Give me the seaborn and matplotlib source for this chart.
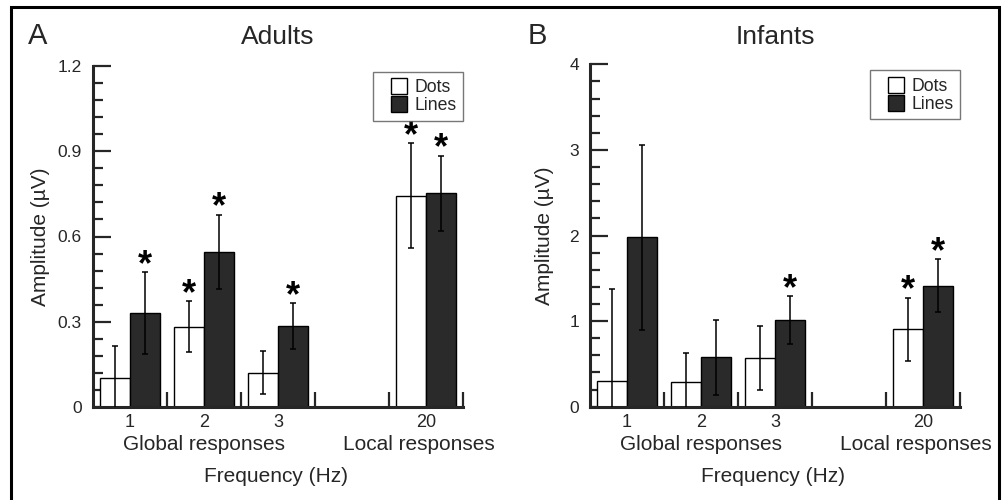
import numpy as np
import pandas as pd
import matplotlib
matplotlib.use("Agg")
import matplotlib.pyplot as plt
import seaborn as sns
from matplotlib.patches import Rectangle
from matplotlib.legend_handler import HandlerPatch

# ---------------- data ----------------
freqs = ["1", "2", "3", "20"]
conditions = ["Dots", "Lines"]
slot_order = ["1", "2", "3", " ", "20"]   # empty slot between 3 and 20

adults_dots = [0.103, 0.283, 0.121, 0.743]
adults_dots_err = [0.11, 0.09, 0.075, 0.185]
adults_lines = [0.33, 0.547, 0.285, 0.752]
adults_lines_err = [0.145, 0.13, 0.08, 0.133]
adults_dots_sig = [False, True, False, True]
adults_lines_sig = [True, True, True, True]

infants_dots = [0.30, 0.285, 0.569, 0.904]
infants_dots_err = [1.08, 0.345, 0.37, 0.37]
infants_lines = [1.98, 0.577, 1.013, 1.414]
infants_lines_err = [1.08, 0.44, 0.28, 0.31]
infants_dots_sig = [False, False, False, True]
infants_lines_sig = [False, False, True, True]

adult_yticks = [0, 0.3, 0.6, 0.9, 1.2]
adult_ytick_labels = ["0", "0.3", "0.6", "0.9", "1.2"]
infant_yticks = [0, 1, 2, 3, 4]
infant_ytick_labels = ["0", "1", "2", "3", "4"]

# ---------------- style ----------------
sns.set_style("ticks")
plt.rcParams["font.family"] = ["Liberation Sans", "DejaVu Sans"]

fig = plt.figure(figsize=(10.02, 5.0), dpi=100)
W, H = 1002.0, 500.0

def make_axes(left, right, top, bottom):
    return fig.add_axes([left / W, 1 - bottom / H, (right - left) / W, (bottom - top) / H])

axA = make_axes(93, 463, 66, 407)
axB = make_axes(590, 960, 64.3, 406.7)

palette = {"Dots": "white", "Lines": "#2a2a2a"}


def square_right(legend, orig_handle, xdescent, ydescent, width, height, fontsize):
    side = height
    return Rectangle((-xdescent + width - side, -ydescent), side, height)


def panel(ax, dots, dots_err, lines, lines_err, dsig, lsig, yticks, ylabels,
          minor_step, ymax, title, ylab_x, title_y):
    df = pd.DataFrame({
        "Frequency": freqs * 2,
        "Condition": ["Dots"] * len(freqs) + ["Lines"] * len(freqs),
        "Amplitude": dots + lines,
    })
    sns.barplot(data=df, x="Frequency", y="Amplitude", hue="Condition",
                order=slot_order, hue_order=conditions, palette=palette,
                saturation=1, edgecolor="black", linewidth=1.0,
                errorbar=None, width=0.8, ax=ax)
    conts = list(ax.containers[:2])
    for cont, errs, sigs in zip(conts, [dots_err, lines_err], [dsig, lsig]):
        bars = sorted(cont.patches, key=lambda p: p.get_x())
        for bar, e, s in zip(bars, errs, sigs):
            cx = bar.get_x() + bar.get_width() / 2
            h = bar.get_height()
            ax.errorbar(cx, h, yerr=e, color="black", lw=1.1, capsize=2,
                        capthick=1.1, zorder=4)
            if s:
                ax.annotate("*", (cx, h + e), xytext=(0, -2.0),
                            textcoords="offset points", ha="center",
                            va="baseline", fontsize=26, fontweight="bold",
                            color="black", zorder=5)

    ax.set_xlim(-0.5, 4.5)
    ax.set_ylim(0, ymax)
    ax.set_xticks([0, 1, 2, 4], freqs)
    ax.set_xticks([0.5, 1.5, 2.5, 3.5, 4.5], minor=True)
    ax.set_yticks(yticks, ylabels)
    ax.set_yticks(np.arange(0, ymax + 1e-9, minor_step), minor=True)
    ax.tick_params(axis="x", which="major", length=0, labelsize=13, pad=5)
    ax.tick_params(axis="x", which="minor", direction="in", length=11, width=1.6)
    ax.tick_params(axis="y", which="major", direction="in", length=13, width=1.6,
                   labelsize=12.5, pad=8)
    ax.tick_params(axis="y", which="minor", direction="in", length=7, width=1.6)
    for sp in ["top", "right"]:
        ax.spines[sp].set_visible(False)
    for sp in ["left", "bottom"]:
        ax.spines[sp].set_linewidth(2.2)
    ax.set_xlabel("")
    ax.set_ylabel("")

    ax.text(ylab_x, 0.5, "Amplitude (\u00b5V)", transform=ax.transAxes,
            rotation=90, ha="center", va="center", fontsize=15)
    ax.text(0.5, title_y, title, transform=ax.transAxes, ha="center",
            va="baseline", fontsize=19)
    ax.annotate("Global responses", (1, -0.111), xycoords=("data", "axes fraction"),
                ha="center", va="center", fontsize=15)
    ax.annotate("Local responses", (3.9, -0.111), xycoords=("data", "axes fraction"),
                ha="center", va="center", fontsize=15)
    ax.text(0.495, -0.205, "Frequency (Hz)", transform=ax.transAxes,
            ha="center", va="center", fontsize=15)

    sns.move_legend(ax, "upper right", bbox_to_anchor=(1.0, 0.983), title=None,
                    frameon=True, fancybox=False, fontsize=12.7,
                    handlelength=1.55, handleheight=1.0, handletextpad=0.4,
                    labelspacing=0.0, borderpad=0.38, borderaxespad=0,
                    handler_map={Rectangle: HandlerPatch(patch_func=square_right)})
    leg = ax.get_legend()
    leg.get_frame().set_edgecolor("#555555")
    leg.get_frame().set_linewidth(1.0)
    for p in leg.get_patches():
        p.set_edgecolor("black")
        p.set_linewidth(1.0)


panel(axA, adults_dots, adults_dots_err, adults_lines, adults_lines_err,
      adults_dots_sig, adults_lines_sig, adult_yticks, adult_ytick_labels,
      0.06, 1.2, "Adults", -0.143, 1.0645)
panel(axB, infants_dots, infants_dots_err, infants_lines, infants_lines_err,
      infants_dots_sig, infants_lines_sig, infant_yticks, infant_ytick_labels,
      0.2, 4.0, "Infants", -0.122, 1.059)

fig.text(28 / W, 1 - 44 / H, "A", fontsize=21, va="baseline", ha="left")
fig.text(528 / W, 1 - 44 / H, "B", fontsize=21, va="baseline", ha="left")

fig.add_artist(Rectangle((11 / W, -0.1), (999 - 11) / W, (1 - 7 / H) + 0.1,
                         transform=fig.transFigure, fill=False, lw=2.2,
                         ec="black"))

fig.savefig("out.png", dpi=100)
